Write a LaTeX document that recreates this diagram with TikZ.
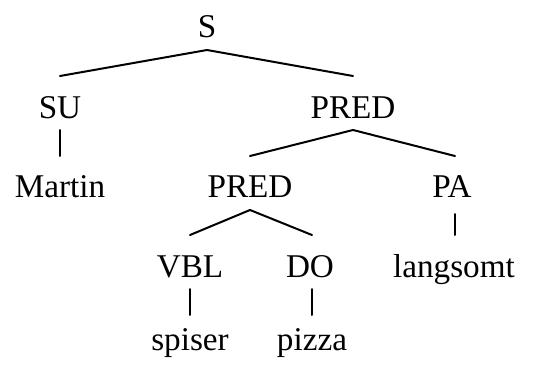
\documentclass[tikz,border=0pt]{standalone}
\usepackage{fontspec}
\setmainfont{Liberation Serif}
\usetikzlibrary{calc}
\begin{document}
\begin{tikzpicture}[x=0.5pt,y=-0.5pt,
  lab/.style={anchor=base,inner sep=0pt,font=\fontsize{16.6}{20}\selectfont},
  branch/.style={line width=1pt,line cap=round}]
\useasboundingbox (0,0) rectangle (546,364);
% labels, placed on their baselines
\node[lab] (S)     at (207,37)  {S};
\node[lab] (SU)    at (60,118)  {SU};
\node[lab] (PRED)  at (353,118) {PRED};
\node[lab] (Mart)  at (60,197)  {Martin};
\node[lab] (PRED2) at (250,197) {PRED};
\node[lab] (PA)    at (452,197) {PA};
\node[lab] (VBL)   at (190,277) {VBL};
\node[lab] (DO)    at (310,277) {DO};
\node[lab] (lang)  at (454,277) {langsomt};
\node[lab] (spis)  at (190,350) {spiser};
\node[lab] (pizz)  at (312,350) {pizza};
% branches
\draw[branch] ($(S.base)+(0,13)$) -- ($(SU.base)+(0,-42)$);
\draw[branch] ($(S.base)+(0,13)$) -- ($(PRED.base)+(0,-42)$);
\draw[branch] ($(SU.base)+(0,12)$) -- ($(Mart.base)+(0,-41)$);
\draw[branch] ($(PRED.base)+(0,12)$) -- ($(PRED2.base)+(0,-41)$);
\draw[branch] ($(PRED.base)+(0,12)$) -- ($(PA.base)+(3,-41)$);
\draw[branch] ($(PRED2.base)+(0,13)$) -- ($(VBL.base)+(0,-42)$);
\draw[branch] ($(PRED2.base)+(0,13)$) -- ($(DO.base)+(2,-42)$);
\draw[branch] ($(PA.base)+(3,17)$) -- ($(lang.base)+(1,-42)$);
\draw[branch] ($(VBL.base)+(0,12)$) -- ($(spis.base)+(0,-35)$);
\draw[branch] ($(DO.base)+(2,12)$) -- ($(pizz.base)+(0,-35)$);
\end{tikzpicture}
\end{document}
